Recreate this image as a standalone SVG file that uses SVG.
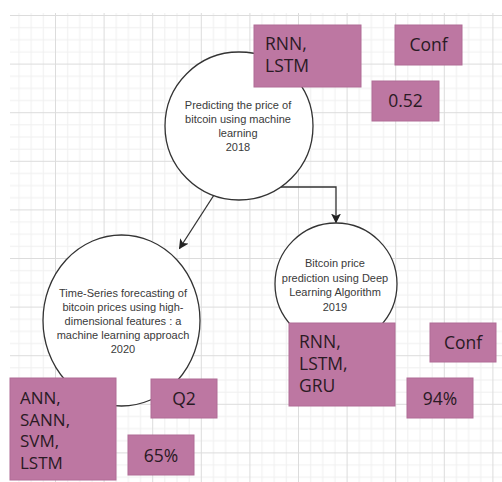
<svg xmlns="http://www.w3.org/2000/svg" width="502" height="482" viewBox="0 0 502 482">
<defs>
<pattern id="grid" patternUnits="userSpaceOnUse" x="6.4" y="15" width="48.6" height="48.6">
<rect x="12.15" y="0" width="1" height="48.6" fill="#efefef"/>
<rect x="24.3" y="0" width="1" height="48.6" fill="#efefef"/>
<rect x="36.45" y="0" width="1" height="48.6" fill="#efefef"/>
<rect x="0" y="12.15" width="48.6" height="1" fill="#efefef"/>
<rect x="0" y="24.3" width="48.6" height="1" fill="#efefef"/>
<rect x="0" y="36.45" width="48.6" height="1" fill="#efefef"/>
<rect x="0" y="0" width="1" height="48.6" fill="#dcdcdc"/>
<rect x="0" y="0" width="48.6" height="1" fill="#dcdcdc"/>
</pattern>
<marker id="arr" viewBox="0 0 10 10" refX="9" refY="5" markerWidth="10" markerHeight="10" markerUnits="userSpaceOnUse" orient="auto">
<path d="M0,0 L10,5 L0,10 L2.5,5 Z" fill="#222"/>
</marker>
<style>
.node{fill:#ffffff;stroke:#333333;stroke-width:1.3}
.ct{font-family:"Liberation Sans",Arial,sans-serif;font-size:11px;fill:#3a3a3a;text-anchor:middle}
.box{fill:#bd77a2;stroke:#b06c96;stroke-width:1}
.bt{font-family:"Open Sans","Noto Sans",sans-serif;font-size:17.5px;fill:#2a1a24}
.bts{font-family:"Open Sans","Noto Sans",sans-serif;font-size:17px;fill:#2a1a24}
.btc{font-family:"Open Sans","Noto Sans",sans-serif;font-size:17.5px;fill:#2a1a24;text-anchor:middle}
.edge{fill:none;stroke:#333333;stroke-width:1.3}
</style>
</defs>
<rect x="0" y="0" width="502" height="482" fill="#ffffff"/>
<rect x="10" y="13" width="492" height="469" fill="url(#grid)"/>

<g id="connectors">
<path class="edge" d="M214,195 L179.5,248.5" marker-end="url(#arr)"/>
<path class="edge" d="M281,187 L336,187 L336,222.5" marker-end="url(#arr)"/>
</g>

<g id="paper2018">
<circle class="node" cx="239" cy="126" r="74"/>
<text class="ct" x="238" y="109">Predicting the price of</text>
<text class="ct" x="238" y="123">bitcoin using machine</text>
<text class="ct" x="238" y="137">learning</text>
<text class="ct" x="238" y="151">2018</text>
</g>

<g id="paper2019">
<circle class="node" cx="336" cy="284" r="61"/>
<text class="ct" x="335" y="267">Bitcoin price</text>
<text class="ct" x="335" y="282">prediction using Deep</text>
<text class="ct" x="335" y="296">Learning Algorithm</text>
<text class="ct" x="335" y="311">2019</text>
</g>

<g id="paper2020">
<ellipse class="node" cx="121.5" cy="320.5" rx="78.5" ry="85.5"/>
<text class="ct" x="123" y="297">Time-Series forecasting of</text>
<text class="ct" x="123" y="311">bitcoin prices using high-</text>
<text class="ct" x="123" y="325">dimensional features : a</text>
<text class="ct" x="123" y="339">machine learning approach</text>
<text class="ct" x="123" y="353">2020</text>
</g>

<g id="methods2018">
<rect class="box" x="254" y="25" width="107" height="62"/>
<text class="bt" x="265" y="50">RNN,</text>
<text class="bt" x="265" y="72">LSTM</text>
</g>
<g id="conf2018">
<rect class="box" x="395" y="25" width="67" height="40"/>
<text class="btc" x="428.5" y="51">Conf</text>
</g>
<g id="score2018">
<rect class="box" x="372" y="81" width="67" height="40"/>
<text class="btc" x="405.5" y="107">0.52</text>
</g>

<g id="methods2019">
<rect class="box" x="289" y="323" width="106" height="83"/>
<text class="bt" x="299" y="348">RNN,</text>
<text class="bt" x="299" y="370">LSTM,</text>
<text class="bt" x="299" y="392">GRU</text>
</g>
<g id="conf2019">
<rect class="box" x="430" y="323" width="66" height="39"/>
<text class="btc" x="463" y="349">Conf</text>
</g>
<g id="score2019">
<rect class="box" x="407" y="378" width="66" height="40"/>
<text class="btc" x="440" y="405">94%</text>
</g>

<g id="methods2020">
<rect class="box" x="10" y="378" width="106" height="102"/>
<text class="bts" x="20" y="404">ANN,</text>
<text class="bts" x="20" y="425.5">SANN,</text>
<text class="bts" x="20" y="447">SVM,</text>
<text class="bts" x="20" y="468.5">LSTM</text>
</g>
<g id="q2020">
<rect class="box" x="151" y="379" width="66" height="39"/>
<text class="btc" x="184" y="405">Q2</text>
</g>
<g id="score2020">
<rect class="box" x="128" y="435" width="66" height="40"/>
<text class="btc" x="161" y="462">65%</text>
</g>
</svg>
